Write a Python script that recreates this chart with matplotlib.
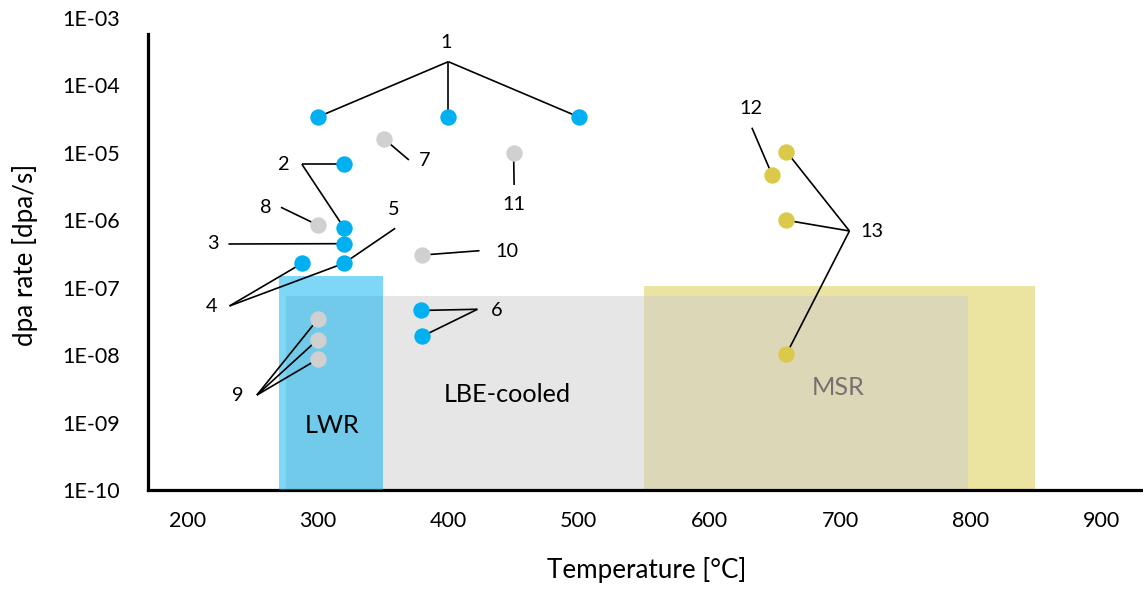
import matplotlib
matplotlib.use("Agg")
import matplotlib.pyplot as plt

plt.rcParams['font.family'] = ['Lato', 'DejaVu Sans']

# ---------------- data ----------------
blue_T = [300, 400, 500, 320, 320, 320, 288, 320, 379, 380]
blue_rate = [3.4e-5, 3.4e-5, 3.4e-5, 6.8e-6, 7.8e-7, 4.5e-7, 2.3e-7, 2.3e-7, 4.6e-8, 1.9e-8]

gray_T = [351, 450, 300, 380, 300, 300, 300]
gray_rate = [1.6e-5, 9.8e-6, 8.5e-7, 3.05e-7, 3.4e-8, 1.7e-8, 8.7e-9]

yellow_T = [659, 648, 659, 659]
yellow_rate = [1.04e-5, 4.7e-6, 1.0e-6, 1.04e-8]

region_names = ['LWR', 'LBE-cooled', 'MSR']
region_T_min = [270, 276, 550]
region_T_max = [350, 798, 849]
region_rate_max = [1.5e-7, 7.5e-8, 1.07e-7]

x_ticks = [200, 300, 400, 500, 600, 700, 800, 900]
y_exponents = [-10, -9, -8, -7, -6, -5, -4, -3]
y_tick_labels = ['1E-10', '1E-09', '1E-08', '1E-07', '1E-06', '1E-05', '1E-04', '1E-03']

# annotation groups: label, label position, branch point, targets (series, index)
series = {'b': (blue_T, blue_rate), 'g': (gray_T, gray_rate), 'y': (yellow_T, yellow_rate)}
annotations = [
    ('1', (398.5, 4.3e-4), (400, 2.25e-4), [('b', 0), ('b', 1), ('b', 2)]),
    ('2', (273.3, 6.8e-6), (287.8, 6.8e-6), [('b', 3), ('b', 4)]),
    ('7', (381.5, 7.6e-6), (369.8, 7.84e-6), [('g', 0)]),
    ('11', (450.4, 1.69e-6), (450.4, 3.34e-6), [('g', 1)]),
    ('8', (260.5, 1.54e-6), (271.8, 1.56e-6), [('g', 2)]),
    ('3', (219.4, 4.45e-7), (231.6, 4.45e-7), [('b', 5)]),
    ('5', (358.5, 1.47e-6), (359.3, 7.6e-7), [('b', 7)]),
    ('4', (218.4, 5.2e-8), (232.4, 5.36e-8), [('b', 6), ('b', 7)]),
    ('10', (444.5, 3.5e-7), (423.9, 3.54e-7), [('g', 3)]),
    ('6', (436.7, 4.67e-8), (422.3, 4.79e-8), [('b', 8), ('b', 9)]),
    ('9', (238.8, 2.48e-9), (253.4, 2.56e-9), [('g', 4), ('g', 5), ('g', 6)]),
    ('12', (632.0, 4.6e-5), (632.5, 2.36e-5), [('y', 1)]),
    ('13', (724.4, 6.8e-7), (707.2, 6.94e-7), [('y', 0), ('y', 2), ('y', 3)]),
]

region_label_pos = [(311, 9.2e-10), (445, 2.65e-9), (698.6, 3.26e-9)]

# ---------------- figure ----------------
W, H = 1143, 592
fig = plt.figure(figsize=(W / 100, H / 100), dpi=100)
ax = fig.add_axes([148 / W, (H - 490) / H, (1141 - 148) / W, (490 - 18) / H])
ax.set_yscale('log')
ax.set_xlim(170, 930.5)
ax.set_ylim(1e-10, 1e-3)

# regions: yellow opaque, gray semi-transparent, blue semi-transparent
region_colors = ['#00B0F0', '#CFCFCF', '#EBE3A0']
region_alpha = [0.5, 0.5, 1.0]
region_z = [3, 2, 1]
for i in range(3):
    ax.fill_between([region_T_min[i], region_T_max[i]], 1e-10, region_rate_max[i],
                    color=region_colors[i], alpha=region_alpha[i], lw=0, zorder=region_z[i])

# leader lines
for label, lpos, bpos, targets in annotations:
    for s, idx in targets:
        T, R = series[s]
        ax.plot([bpos[0], T[idx]], [bpos[1], R[idx]], color='black', lw=1.2, zorder=4,
                solid_capstyle='butt')
    ax.text(lpos[0], lpos[1], label, ha='center', va='center', fontsize=14.3,
            color='black', zorder=6)

# markers
ms = 11.8
ax.plot(blue_T, blue_rate, 'o', color='#00B0F0', ms=ms, mec='none', zorder=5)
ax.plot(gray_T, gray_rate, 'o', color='#D0D0D0', ms=ms, mec='none', zorder=5)
ax.plot(yellow_T, yellow_rate, 'o', color='#DBC94A', ms=ms, mec='none', zorder=5)

# region labels
region_text_colors = ['black', 'black', '#767171']
for i in range(3):
    ax.text(region_label_pos[i][0], region_label_pos[i][1], region_names[i],
            ha='center', va='center', fontsize=18.2, color=region_text_colors[i], zorder=6)

# axes styling
for side in ['top', 'right']:
    ax.spines[side].set_visible(False)
ax.spines['left'].set_linewidth(2.3)
ax.spines['bottom'].set_linewidth(2.3)
ax.spines['left'].set_bounds(1e-10, 5.8e-4)
ax.set_xticks(x_ticks)
ax.set_xticklabels([str(v) for v in x_ticks], fontsize=15.5)
ax.set_yticks([10.0 ** e for e in y_exponents])
ax.set_yticklabels(y_tick_labels, fontsize=15.5)
ax.minorticks_off()
ax.tick_params(axis='x', length=0, pad=15)
ax.tick_params(axis='y', length=0, pad=20)

fig.text(647 / W, 1 - 570 / H, 'Temperature [°C]', ha='center', va='center', fontsize=18.7)
fig.text(25 / W, 1 - 255 / H, 'dpa rate [dpa/s]', ha='center', va='center',
         fontsize=18.7, rotation=90)

fig.savefig('out.png', dpi=100)
